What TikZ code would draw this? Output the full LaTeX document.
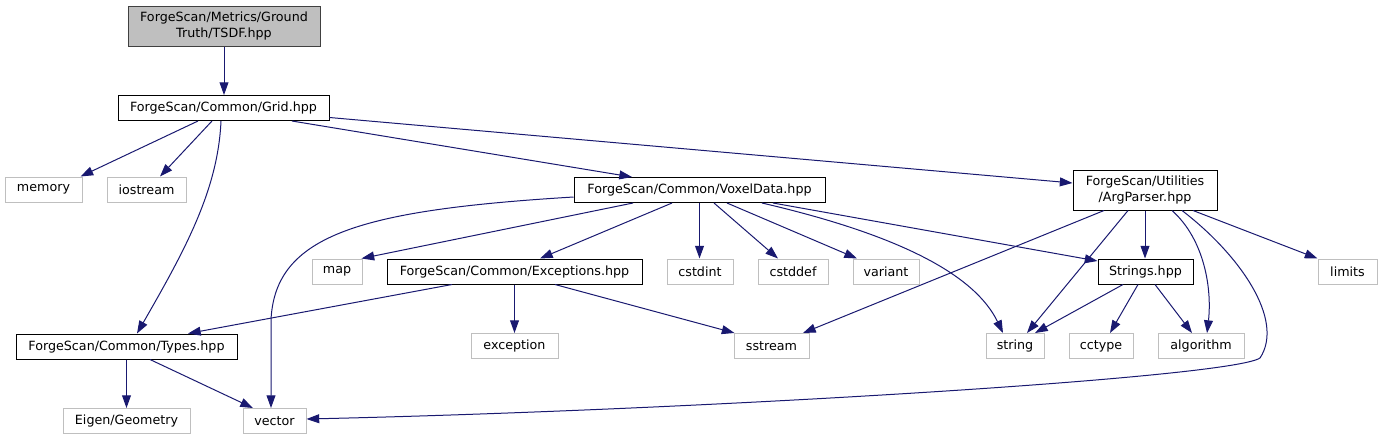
\documentclass[tikz,border=0pt]{standalone}
\usepackage{fontspec}
\setmainfont{DejaVu Sans}
\usetikzlibrary{arrows.meta}
\definecolor{edgeblue}{HTML}{191970}
\definecolor{grayborder}{HTML}{BFBFBF}
\definecolor{mainfill}{HTML}{BFBFBF}
\definecolor{mainborder}{HTML}{404040}
\tikzset{
  base/.style={rectangle, inner sep=0pt, minimum height=25pt, font=\fontsize{12.7}{16}\selectfont, align=center, line width=1pt},
  sys/.style={base, draw=grayborder},
  loc/.style={base, draw=black},
  mainbox/.style={base, draw=mainborder, fill=mainfill, minimum height=40pt},
  two/.style={minimum height=40pt},
  dep/.style={draw=edgeblue, line width=1pt, -{Triangle[length=12.7pt,width=8.9pt]}},
}
\begin{document}
\begin{tikzpicture}[x=1pt,y=-1pt]
\useasboundingbox (0,0) rectangle (1383,440);
% nodes
\node[mainbox, minimum width=192pt] (tsdf) at (224,26) {ForgeScan/Metrics/Ground\\Truth/TSDF.hpp};
\node[loc, minimum width=211pt] (grid) at (223.5,108) {ForgeScan/Common/Grid.hpp};
\node[sys, minimum width=77pt] (memory) at (43.5,189.5) {memory};
\node[sys, minimum width=79pt] (iostream) at (146.5,189.5) {iostream};
\node[loc, minimum width=251pt] (voxel) at (699.5,190) {ForgeScan/Common/VoxelData.hpp};
\node[loc, two, minimum width=144pt] (argp) at (1145,190) {ForgeScan/Utilities\\/ArgParser.hpp};
\node[sys, minimum width=50pt] (map) at (337,271.5) {map};
\node[loc, minimum width=255pt] (exc) at (514.5,271.5) {ForgeScan/Common/Exceptions.hpp};
\node[sys, minimum width=66pt] (cstdint) at (700,271.5) {cstdint};
\node[sys, minimum width=70pt] (cstddef) at (793,271.5) {cstddef};
\node[sys, minimum width=66pt] (variant) at (886,271.5) {variant};
\node[loc, minimum width=95pt] (strings) at (1145.5,271.5) {Strings.hpp};
\node[sys, minimum width=59pt] (limits) at (1347.5,271.5) {limits};
\node[loc, minimum width=221pt] (types) at (126.5,346.5) {ForgeScan/Common/Types.hpp};
\node[sys, minimum width=87pt] (exception) at (514.5,346) {exception};
\node[sys, minimum width=75pt] (sstream) at (771.5,346) {sstream};
\node[sys, minimum width=58pt] (string) at (1015,346) {string};
\node[sys, minimum width=64pt] (cctype) at (1101,346) {cctype};
\node[sys, minimum width=86pt] (algorithm) at (1201,346) {algorithm};
\node[sys, minimum width=127pt] (eigen) at (126.5,421) {Eigen/Geometry};
\node[sys, minimum width=63pt] (vector) at (274.5,421) {vector};
% edges
\draw[dep] (tsdf.south) -- (tsdf.south |- grid.north);
\draw[dep] ([xshift=-25.5pt]grid.south) -- ([xshift=-2pt]memory.north east);
\draw[dep] ([xshift=-11.5pt]grid.south) -- ([xshift=13.5pt]iostream.north);
\draw[dep] ([xshift=-2.5pt]grid.south) .. controls (218,190) and (185,250) .. ([xshift=10.5pt]types.north);
\draw[dep] ([xshift=68.5pt]grid.south) -- ([xshift=-67.5pt]voxel.north);
\draw[dep] ([yshift=3.5pt]grid.south east) -- ([yshift=7pt]argp.west);
\draw[dep] ([yshift=-7pt]voxel.west) .. controls (360,210) and (275,235) .. (271,320) -- ([xshift=-3.5pt]vector.north);
\draw[dep] ([xshift=-66.5pt]voxel.south) -- ([xshift=-1pt]map.north east);
\draw[dep] ([xshift=-27.5pt]voxel.south) -- ([xshift=25.5pt]exc.north);
\draw[dep] (voxel.south) -- (voxel.south |- cstdint.north);
\draw[dep] ([xshift=14.5pt]voxel.south) -- ([xshift=-15pt]cstddef.north);
\draw[dep] ([xshift=27.5pt]voxel.south) -- ([xshift=-29pt]variant.north);
\draw[dep] ([xshift=62.5pt]voxel.south) .. controls (900,235) and (975,275) .. ([xshift=-12pt]string.north);
\draw[dep] ([xshift=73.5pt]voxel.south) -- ([yshift=-2.5pt]strings.north west);
\draw[dep] ([xshift=-41pt]argp.south) -- ([xshift=31.5pt]sstream.north);
\draw[dep] ([xshift=-17pt]argp.south) -- ([xshift=12pt]string.north);
\draw[dep] (argp.south) -- (argp.south |- strings.north);
\draw[dep] ([xshift=27pt]argp.south) .. controls (1205,240) and (1212,290) .. ([xshift=6pt]algorithm.north);
\draw[dep] ([xshift=37pt]argp.south) .. controls (1240,255) and (1285,320) .. (1260,358) .. controls (1230,378) and (700,410) .. ([yshift=2pt]vector.east);
\draw[dep] ([xshift=48pt]argp.south) -- (limits.north west);
\draw[dep] ([xshift=-22.5pt]strings.south) -- ([xshift=20pt]string.north);
\draw[dep] ([xshift=-7.5pt]strings.south) -- ([xshift=9pt]cctype.north);
\draw[dep] ([xshift=9.5pt]strings.south) -- ([xshift=-9pt]algorithm.north);
\draw[dep] ([xshift=-62.5pt]exc.south) -- ([xshift=61.5pt]types.north);
\draw[dep] (exc.south) -- (exception.north);
\draw[dep] ([xshift=40.5pt]exc.south) -- ([xshift=1pt]sstream.north west);
\draw[dep] (types.south) -- (eigen.north);
\draw[dep] ([xshift=23.5pt]types.south) -- ([xshift=-21.5pt]vector.north);
\end{tikzpicture}
\end{document}
